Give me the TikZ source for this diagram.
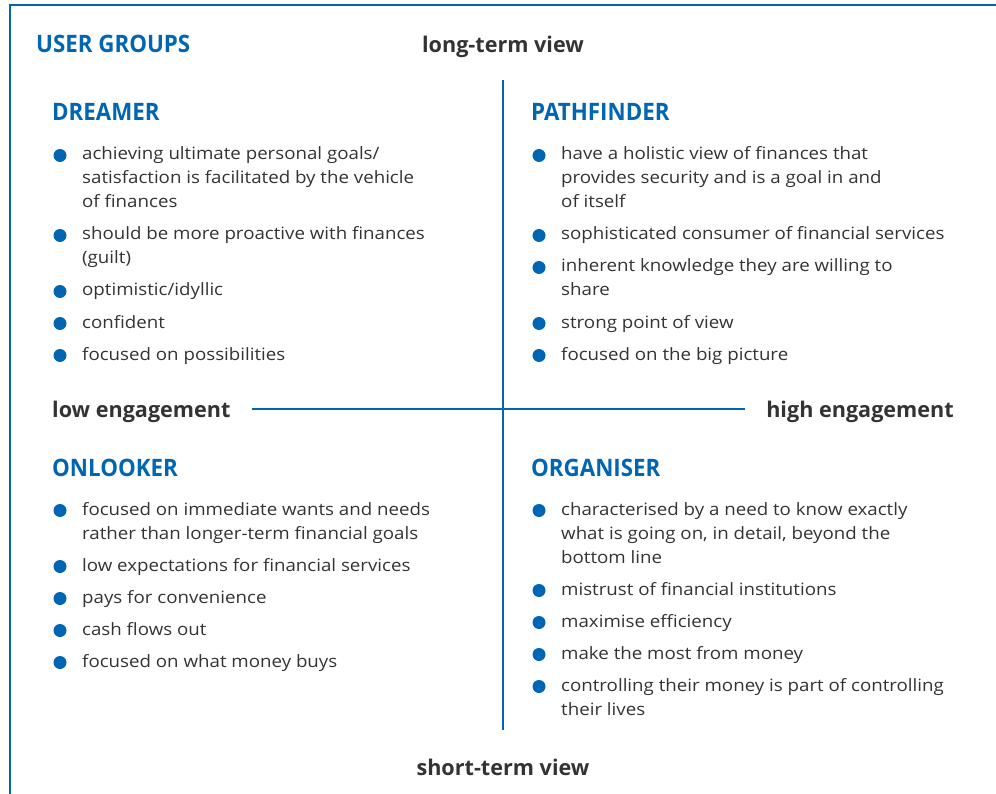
\documentclass[tikz,border=0pt]{standalone}
\usepackage{fontspec}
\setmainfont{Open Sans}
\newfontfamily\bodyfont[FakeStretch=1.1]{Open Sans}
\newfontfamily\headfont[FakeStretch=0.93]{Open Sans Bold}
\definecolor{ublue}{HTML}{0066B3}
\definecolor{utext}{HTML}{333333}
\begin{document}
\begin{tikzpicture}[x=1pt,y=-1pt,
  txt/.style={anchor=base west,inner sep=0pt,text=utext,font=\bodyfont\fontsize{17}{20}\selectfont},
  head/.style={anchor=base west,inner sep=0pt,text=ublue,font=\headfont\fontsize{24}{28}\selectfont},
  axis/.style={inner sep=0pt,text=utext,font=\fontsize{21.6}{25}\selectfont\bfseries},
  dot/.style={circle,fill=ublue,inner sep=0pt,minimum size=13pt},
  rule/.style={draw=ublue,line width=2.5pt},
  frame/.style={draw=ublue,line width=2.5pt}]
\useasboundingbox (0,0) rectangle (996,794);
\coordinate (ftl) at (10,5);
\coordinate (ftr) at (996,5);
\coordinate (fbl) at (10,794);
\draw[frame] (ftr) -- (ftl) -- (fbl);
% axes
\coordinate (vt) at (503,80);
\coordinate (vb) at (503,730);
\coordinate (hl) at (252,409);
\coordinate (hr) at (745,409);
\draw[rule] (vt) -- (vb);
\draw[rule] (hl) -- (hr);
% titles
\node[head] (ug) at (36,53) {USER GROUPS};
\node[axis,anchor=base] (lt) at (503,53) {long-term view};
\node[axis,anchor=base] (st) at (503,775) {short-term view};
\node[axis,anchor=base west] (le) at (52,417) {low engagement};
\node[axis,anchor=base east] (he) at (954,417) {high engagement};
% DREAMER
\node[head] (dh) at (52,121) {DREAMER};
\node[dot] (db1) at (60,155.5) {};
\node[txt] (d1a) at (82,160) {achieving ultimate personal goals/};
\node[txt] (d1b) at (82,184) {satisfaction is facilitated by the vehicle};
\node[txt] (d1c) at (82,208) {of finances};
\node[dot] (db2) at (60,235.5) {};
\node[txt] (d2a) at (82,240) {should be more proactive with finances};
\node[txt] (d2b) at (82,264) {(guilt)};
\node[dot] (db3) at (60,291.5) {};
\node[txt] (d3) at (82,296) {optimistic/idyllic};
\node[dot] (db4) at (60,323.5) {};
\node[txt] (d4) at (82,328) {confident};
\node[dot] (db5) at (60,355.5) {};
\node[txt] (d5) at (82,360) {focused on possibilities};
% PATHFINDER
\node[head] (ph) at (531,121) {PATHFINDER};
\node[dot] (pb1) at (539,155.5) {};
\node[txt] (p1a) at (561,160) {have a holistic view of finances that};
\node[txt] (p1b) at (561,184) {provides security and is a goal in and};
\node[txt] (p1c) at (561,208) {of itself};
\node[dot] (pb2) at (539,235.5) {};
\node[txt] (p2) at (561,240) {sophisticated consumer of financial services};
\node[dot] (pb3) at (539,267.5) {};
\node[txt] (p3a) at (561,272) {inherent knowledge they are willing to};
\node[txt] (p3b) at (561,296) {share};
\node[dot] (pb4) at (539,323.5) {};
\node[txt] (p4) at (561,328) {strong point of view};
\node[dot] (pb5) at (539,355.5) {};
\node[txt] (p5) at (561,360) {focused on the big picture};
% ONLOOKER
\node[head] (oh) at (52,476) {ONLOOKER};
\node[dot] (ob1) at (60,510.5) {};
\node[txt] (o1a) at (82,515) {focused on immediate wants and needs};
\node[txt] (o1b) at (82,539) {rather than longer-term financial goals};
\node[dot] (ob2) at (60,566.5) {};
\node[txt] (o2) at (82,571) {low expectations for financial services};
\node[dot] (ob3) at (60,598.5) {};
\node[txt] (o3) at (82,603) {pays for convenience};
\node[dot] (ob4) at (60,630.5) {};
\node[txt] (o4) at (82,635) {cash flows out};
\node[dot] (ob5) at (60,662.5) {};
\node[txt] (o5) at (82,667) {focused on what money buys};
% ORGANISER
\node[head] (gh) at (531,476) {ORGANISER};
\node[dot] (gb1) at (539,510.5) {};
\node[txt] (g1a) at (561,515) {characterised by a need to know exactly};
\node[txt] (g1b) at (561,539) {what is going on, in detail, beyond the};
\node[txt] (g1c) at (561,563) {bottom line};
\node[dot] (gb2) at (539,590.5) {};
\node[txt] (g2) at (561,595) {mistrust of financial institutions};
\node[dot] (gb3) at (539,622.5) {};
\node[txt] (g3) at (561,627) {maximise efficiency};
\node[dot] (gb4) at (539,654.5) {};
\node[txt] (g4) at (561,659) {make the most from money};
\node[dot] (gb5) at (539,686.5) {};
\node[txt] (g5a) at (561,691) {controlling their money is part of controlling};
\node[txt] (g5b) at (561,715) {their lives};
\end{tikzpicture}
\end{document}
